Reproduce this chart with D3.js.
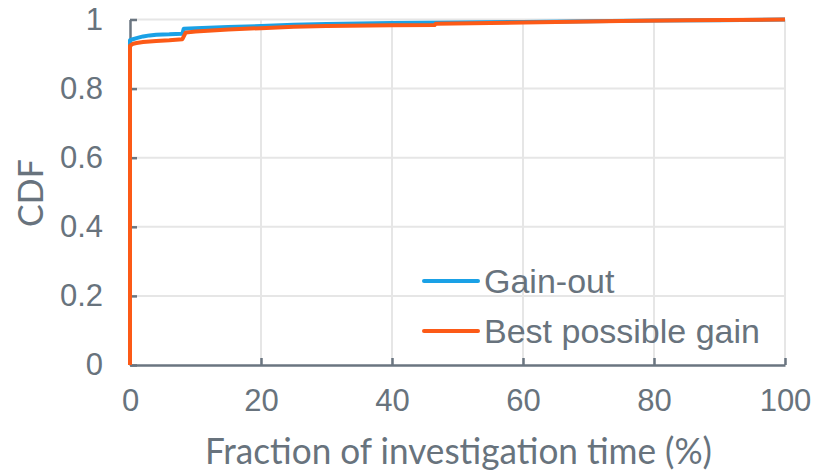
<!DOCTYPE html>
<html><head><meta charset="utf-8">
<script src="https://cdn.jsdelivr.net/npm/d3@7"></script>
<style>body{margin:0;background:#fff}svg{display:block}</style>
</head><body>
<svg id="c" width="830" height="473"></svg>
<script>
const xTicks = [0, 20, 40, 60, 80, 100];
const yTicks = [0, 0.2, 0.4, 0.6, 0.8, 1];
const yTickLabels = ["0", "0.2", "0.4", "0.6", "0.8", "1"];
const seriesNames = ["Gain-out", "Best possible gain"];
const gainOutX = [0, 0, 0.3, 1, 2, 3, 4, 6, 8, 8.2, 10, 15, 20, 25, 30, 40, 50, 60, 70, 80, 90, 100];
const gainOutY = [0, 0.94, 0.942, 0.946, 0.951, 0.954, 0.956, 0.957, 0.959, 0.973, 0.975, 0.978, 0.981, 0.985, 0.987, 0.99, 0.991, 0.993, 0.995, 0.997, 0.998, 1.0];
const bestX = [0, 0, 0.5, 1, 2, 4, 6, 8, 8.5, 10, 15, 20, 25, 30, 40, 46.5, 46.7, 55, 65, 75, 85, 100];
const bestY = [0, 0.924, 0.93, 0.932, 0.935, 0.938, 0.94, 0.943, 0.962, 0.965, 0.971, 0.975, 0.979, 0.981, 0.983, 0.984, 0.988, 0.99, 0.993, 0.996, 0.998, 1.0];

const colors = ["#1aa1e6", "#fc5a17"];
const axisColor = "#6a7580";
const gridColor = "#e6e6e6";
const textColor = "#68737d";

const svg = d3.select("#c");
const x = d3.scaleLinear().domain([0, 100]).range([130, 785]);
const y = d3.scaleLinear().domain([0, 1]).range([365, 19.5]);

// gridlines
svg.append("g").selectAll("line.h").data(yTicks.filter(d => d > 0)).join("line")
  .attr("x1", x(0)).attr("x2", x(100)).attr("y1", d => y(d)).attr("y2", d => y(d))
  .attr("stroke", gridColor).attr("stroke-width", 2);
svg.append("g").selectAll("line.v").data(xTicks.filter(d => d > 0)).join("line")
  .attr("x1", d => x(d)).attr("x2", d => x(d)).attr("y1", y(0)).attr("y2", y(1))
  .attr("stroke", gridColor).attr("stroke-width", 2);

// axes
const xAxis = d3.axisBottom(x).tickValues(xTicks).tickSizeInner(-7).tickSizeOuter(0).tickPadding(18);
const gx = svg.append("g").attr("transform", `translate(0,${y(0)})`).call(xAxis);
gx.select(".domain").attr("stroke", axisColor).attr("stroke-width", 2.5);
gx.selectAll(".tick line").attr("stroke", axisColor).attr("stroke-width", 2.5);
gx.selectAll(".tick text").attr("fill", textColor).attr("font-family", "Liberation Sans, Arial, sans-serif")
  .attr("font-size", 31).attr("dy", "0.71em").attr("transform", "translate(0,6)");

const yAxis = d3.axisLeft(y).tickValues(yTicks).tickFormat((d, i) => yTickLabels[i]).tickSizeInner(-7).tickSizeOuter(0).tickPadding(27);
const gy = svg.append("g").attr("transform", `translate(${x(0)},0)`).call(yAxis);
gy.select(".domain").attr("stroke", axisColor).attr("stroke-width", 2.5);
gy.selectAll(".tick line").attr("stroke", axisColor).attr("stroke-width", 2.5);
gy.selectAll(".tick text").attr("fill", textColor).attr("font-family", "Liberation Sans, Arial, sans-serif")
  .attr("font-size", 31);

// lines
const line = d3.line().x(d => x(d[0])).y(d => y(d[1]));
const series = [d3.zip(gainOutX, gainOutY), d3.zip(bestX, bestY)];
svg.append("g").selectAll("path").data(series).join("path")
  .attr("d", line).attr("fill", "none").attr("stroke", (d, i) => colors[i])
  .attr("stroke-width", 4).attr("stroke-linejoin", "round");

// legend
const lg = svg.append("g");
seriesNames.forEach((n, i) => {
  const ly = 281 + i * 50;
  lg.append("line").attr("x1", 424).attr("x2", 478).attr("y1", ly).attr("y2", ly)
    .attr("stroke", colors[i]).attr("stroke-width", 4).attr("stroke-linecap", "round");
  lg.append("text").attr("x", 484).attr("y", ly).attr("dy", "0.36em").text(n)
    .attr("fill", textColor).attr("font-family", "Liberation Sans, Arial, sans-serif").attr("font-size", 34);
});

// axis titles
svg.append("text").attr("x", 205).attr("y", 464)
  .attr("fill", textColor).attr("font-family", "Lato, sans-serif").attr("font-size", 36)
  .attr("textLength", 507).attr("lengthAdjust", "spacingAndGlyphs")
  .text("Fraction of investigation time (%)");
svg.append("text").attr("transform", "translate(43,193) rotate(-90)").attr("text-anchor", "middle")
  .attr("fill", textColor).attr("font-family", "Lato, sans-serif").attr("font-size", 34)
  .text("CDF");
</script>
</body></html>
